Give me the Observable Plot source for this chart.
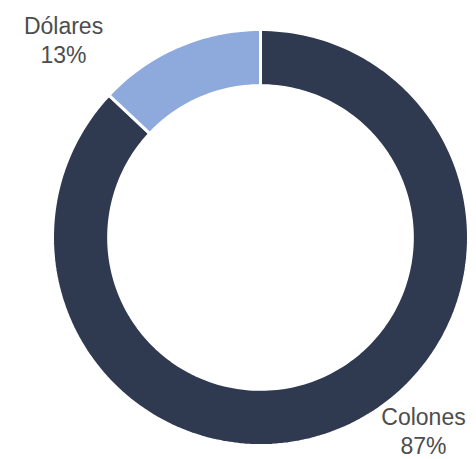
<!DOCTYPE html>
<html>
<head>
<meta charset="utf-8">
<script src="https://cdn.jsdelivr.net/npm/d3@7"></script>
<script src="https://cdn.jsdelivr.net/npm/@observablehq/plot@0.6"></script>
<style>
  html, body { margin: 0; padding: 0; background: #fff; }
  #chart svg { display: block; }
</style>
</head>
<body>
<div id="chart"></div>
<script>
const categories = ["Colones", "Dólares"];
const shares = [87, 13];
const colors = ["#2f3a51", "#8eaadc"];

const innerRatio = 0.73;
const total = d3.sum(shares);
const pie = d3.pie().sort(null).value(d => d.value)(categories.map((c, i) => ({category: c, value: shares[i]})));

// Build slice outlines in data space (angle 0 = 12 o'clock, clockwise)
const pts = [];
const N = 240;
pie.forEach(s => {
  const n = Math.max(4, Math.round(N * (s.endAngle - s.startAngle) / (2 * Math.PI)));
  for (let k = 0; k <= n; k++) {
    const a = s.startAngle + (s.endAngle - s.startAngle) * k / n;
    pts.push({category: s.data.category, x: Math.sin(a), y: Math.cos(a)});
  }
  for (let k = n; k >= 0; k--) {
    const a = s.startAngle + (s.endAngle - s.startAngle) * k / n;
    pts.push({category: s.data.category, x: innerRatio * Math.sin(a), y: innerRatio * Math.cos(a)});
  }
});

const labels = pie.map(s => ({category: s.data.category, text: s.data.category + "\n" + Math.round(100 * s.data.value / total) + "%"}));

const plot = Plot.plot({
  width: 476,
  height: 459,
  marginLeft: 52,
  marginRight: 8,
  marginTop: 29,
  marginBottom: 14,
  x: {domain: [-1, 1], axis: null},
  y: {domain: [-1, 1], axis: null},
  color: {domain: categories, range: colors},
  style: {fontFamily: "'Liberation Sans', Arial, sans-serif", overflow: "visible"},
  marks: [
    Plot.line(pts, {x: "x", y: "y", z: "category", fill: "category", stroke: "white", strokeWidth: 3, curve: "linear-closed", strokeLinejoin: "miter"}),
    Plot.text(labels.filter(d => d.category === "Dólares"), {text: "text", frameAnchor: "top-left", dx: 11, dy: -16, fontSize: 23, lineHeight: 1.27, fill: "#4d4d4d", textAnchor: "middle"}),
    Plot.text(labels.filter(d => d.category === "Colones"), {text: "text", frameAnchor: "bottom-right", dx: -45, dy: 8, fontSize: 23, lineHeight: 1.22, fill: "#4d4d4d", textAnchor: "middle"})
  ]
});
document.getElementById("chart").appendChild(plot);
</script>
</body>
</html>
